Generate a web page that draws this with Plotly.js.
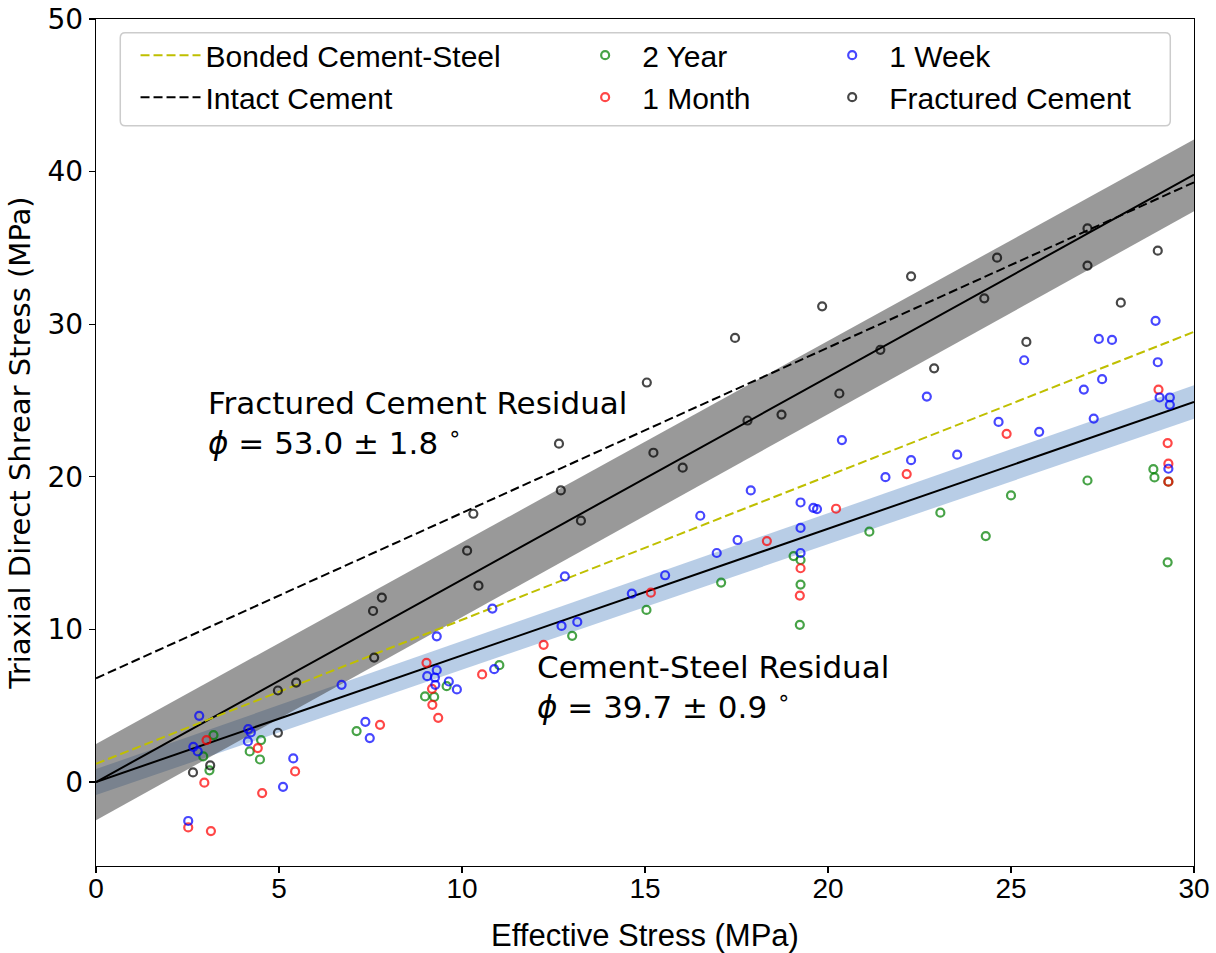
<!DOCTYPE html>
<html>
<head>
<meta charset="utf-8">
<script src="https://cdn.plot.ly/plotly-3.0.1.min.js"></script>
<style>html,body{margin:0;padding:0;background:#fff;}#chart{width:1216px;height:953px;}</style>
</head>
<body>
<div id="chart"></div>
<script>
// ---- Fit / reference lines (endpoints at x = 0 and x = 30) ----
const fitX = [0, 30];
const fracFitY = [0, 39.8];
const fracBandUpper = [2.5, 42.1];
const fracBandLower = [-2.5, 37.4];
const csFitY = [0, 24.9];
const csBandUpper = [0.85, 26.0];
const csBandLower = [-0.85, 23.8];
const intactY = [6.8, 39.3];
const bondedY = [1.2, 29.5];

// ---- Measured points ----
const yr2X = [2.93, 3.10, 3.21, 4.20, 4.48, 4.51, 7.12, 8.99, 9.24, 9.58, 11.02, 13.01, 15.04, 17.08, 19.06, 19.25, 19.25, 19.23, 21.13, 23.07, 24.31, 25.00, 27.09, 28.89, 28.92, 29.28, 29.30];
const yr2Y = [1.68, 0.77, 3.08, 2.01, 1.48, 2.75, 3.34, 5.61, 5.58, 6.28, 7.66, 9.58, 11.28, 13.07, 14.81, 14.55, 12.94, 10.30, 16.41, 17.65, 16.12, 18.78, 19.76, 20.50, 19.96, 14.40, 19.68];

const monthX = [2.52, 3.14, 2.96, 3.02, 4.42, 4.54, 5.44, 7.76, 9.03, 9.18, 9.19, 9.35, 10.55, 12.23, 15.16, 18.33, 19.25, 19.23, 20.22, 22.15, 24.88, 29.03, 29.28, 29.30, 29.30];
const monthY = [-2.97, -3.21, -0.04, 2.75, 2.23, -0.72, 0.70, 3.75, 7.81, 6.11, 5.06, 4.21, 7.05, 8.99, 12.41, 15.79, 14.01, 12.22, 17.91, 20.18, 22.82, 25.72, 22.21, 20.86, 19.68];

const weekX = [2.52, 2.66, 2.78, 2.82, 4.15, 4.16, 4.23, 5.11, 5.39, 6.71, 7.36, 7.48, 9.05, 9.26, 9.27, 9.31, 9.31, 9.64, 9.86, 10.83, 10.88, 12.72, 12.81, 13.15, 14.64, 15.55, 16.51, 16.96, 17.53, 17.89, 19.25, 19.60, 19.70, 19.25, 19.25, 20.38, 21.57, 22.27, 22.70, 23.53, 24.66, 25.36, 25.77, 26.99, 27.26, 27.40, 27.49, 27.76, 28.95, 29.01, 29.06, 29.34, 29.34, 29.30];
const weekY = [-2.55, 2.31, 2.01, 4.34, 2.66, 3.47, 3.25, -0.31, 1.55, 6.37, 3.95, 2.88, 6.94, 6.85, 6.37, 7.33, 9.55, 6.59, 6.07, 11.37, 7.40, 10.23, 13.48, 10.49, 12.35, 13.55, 17.45, 15.01, 15.86, 19.11, 18.32, 17.97, 17.89, 16.65, 15.01, 22.41, 19.98, 21.09, 25.26, 21.45, 23.60, 27.64, 22.95, 25.72, 23.82, 29.04, 26.40, 28.97, 30.22, 27.51, 25.20, 25.20, 24.72, 20.53];

const fracX = [2.65, 3.12, 4.97, 4.97, 5.47, 7.57, 7.60, 7.81, 10.14, 10.31, 10.45, 12.65, 12.70, 13.25, 15.05, 15.23, 16.03, 17.46, 17.80, 18.73, 19.84, 20.31, 21.43, 22.27, 22.90, 24.27, 24.62, 25.42, 27.09, 27.09, 28.00, 29.01];
const fracY = [0.63, 1.09, 3.23, 6.00, 6.52, 11.21, 8.16, 12.09, 15.16, 17.58, 12.87, 22.17, 19.11, 17.13, 26.18, 21.58, 20.60, 29.10, 23.69, 24.08, 31.17, 25.46, 28.32, 33.14, 27.11, 31.70, 34.36, 28.84, 36.28, 33.84, 31.41, 34.82];

const xTicks = [0, 5, 10, 15, 20, 25, 30];
const yTicks = [0, 10, 20, 30, 40, 50];

const sans = "'Liberation Sans', Arial, sans-serif";
const dejavu = "'DejaVu Sans', sans-serif";

function band(xs, lo, hi, fill) {
  return {
    x: xs.concat(xs.slice().reverse()),
    y: hi.concat(lo.slice().reverse()),
    type: 'scatter', mode: 'lines', fill: 'toself',
    fillcolor: fill, line: {width: 0}, hoverinfo: 'skip', showlegend: false
  };
}
function pts(xs, ys, color, name, legend, rank) {
  return {
    x: xs, y: ys, type: 'scatter', mode: 'markers', name: name,
    legend: legend, legendrank: rank,
    marker: {symbol: 'circle-open', size: 8, color: color, line: {width: 2.2, color: color}}
  };
}

const traces = [
  band(fitX, csBandLower, csBandUpper, 'rgba(160,188,222,0.75)'),
  band(fitX, fracBandLower, fracBandUpper, 'rgba(70,70,70,0.55)'),
  {x: fitX, y: fracFitY, type: 'scatter', mode: 'lines', line: {color: '#000', width: 2}, showlegend: false, hoverinfo: 'skip'},
  {x: fitX, y: csFitY, type: 'scatter', mode: 'lines', line: {color: '#000', width: 2}, showlegend: false, hoverinfo: 'skip'},
  {x: fitX, y: bondedY, type: 'scatter', mode: 'lines', name: 'Bonded Cement-Steel', legend: 'legend', legendrank: 1,
   line: {color: '#bfbf00', width: 2, dash: '9px,4px'}},
  {x: fitX, y: intactY, type: 'scatter', mode: 'lines', name: 'Intact Cement', legend: 'legend', legendrank: 2,
   line: {color: '#000', width: 2, dash: '9px,4px'}},
  pts(yr2X, yr2Y, 'rgba(0,128,0,0.72)', '2 Year', 'legend2', 1),
  pts(monthX, monthY, 'rgba(255,0,0,0.72)', '1 Month', 'legend2', 2),
  pts(weekX, weekY, 'rgba(0,0,255,0.72)', '1 Week', 'legend3', 1),
  pts(fracX, fracY, 'rgba(0,0,0,0.72)', 'Fractured Cement', 'legend3', 2)
];

const px0 = 0.0221, px1 = 0.9784, py0 = 0.874, py1 = 0.9838;
const rx = 5 / 1098, ry = 5 / 847;
const boxPath = `M${px0 + rx},${py1} L${px1 - rx},${py1} Q${px1},${py1} ${px1},${py1 - ry} L${px1},${py0 + ry} Q${px1},${py0} ${px1 - rx},${py0} L${px0 + rx},${py0} Q${px0},${py0} ${px0},${py0 + ry} L${px0},${py1 - ry} Q${px0},${py1} ${px0 + rx},${py1} Z`;

const legendCommon = {
  bgcolor: 'rgba(0,0,0,0)', borderwidth: 0, xanchor: 'left', yanchor: 'top',
  font: {family: sans, size: 30, color: '#000'}, orientation: 'v', tracegroupgap: 0
};

const layout = {
  width: 1216, height: 953,
  margin: {l: 96, r: 22, t: 19, b: 87},
  paper_bgcolor: '#fff', plot_bgcolor: '#fff',
  showlegend: true,
  xaxis: {
    range: [0, 30], tickvals: xTicks, ticktext: xTicks.map(String),
    ticks: 'outside', ticklen: 6, tickwidth: 1.2, tickcolor: '#000',
    showline: true, mirror: true, linecolor: '#000', linewidth: 1.2,
    showgrid: false, zeroline: false, ticklabelstandoff: -9,
    tickfont: {family: sans, size: 28, color: '#000'},
    title: {text: 'Effective Stress (MPa)', font: {family: sans, size: 31, color: '#000'}, standoff: 22}
  },
  yaxis: {
    range: [-5.5, 50], tickvals: yTicks, ticktext: yTicks.map(String),
    ticks: 'outside', ticklen: 6, tickwidth: 1.2, tickcolor: '#000',
    showline: true, mirror: true, linecolor: '#000', linewidth: 1.2,
    showgrid: false, zeroline: false,
    tickfont: {family: dejavu, size: 28, color: '#000'},
    title: {text: 'Triaxial Direct Shrear Stress (MPa)', font: {family: dejavu, size: 29, color: '#000'}, standoff: 8}
  },
  legend: Object.assign({}, legendCommon, {x: 0.036, y: 0.988, itemwidth: 60}),
  legend2: Object.assign({}, legendCommon, {x: 0.430, y: 0.988, itemwidth: 64}),
  legend3: Object.assign({}, legendCommon, {x: 0.655, y: 0.988, itemwidth: 64}),
  shapes: [{type: 'path', xref: 'paper', yref: 'paper', path: boxPath,
            line: {color: 'rgb(204,204,204)', width: 1.5}, fillcolor: 'rgba(255,255,255,0.8)', layer: 'above'}],
  annotations: [
    {x: 3.0, y: 20.9, xref: 'x', yref: 'y', xanchor: 'left', yanchor: 'bottom', align: 'left', showarrow: false,
     text: 'Fractured Cement Residual<br><i>ϕ</i> = 53.0 ± 1.8 <sup>∘</sup>', font: {family: dejavu, size: 31, color: '#000'}},
    {x: 12.0, y: 3.6, xref: 'x', yref: 'y', xanchor: 'left', yanchor: 'bottom', align: 'left', showarrow: false,
     text: 'Cement-Steel Residual<br><i>ϕ</i> = 39.7 ± 0.9 <sup>∘</sup>', font: {family: dejavu, size: 31, color: '#000'}}
  ]
};

Plotly.newPlot('chart', traces, layout, {displayModeBar: false, staticPlot: true});
</script>
</body>
</html>
